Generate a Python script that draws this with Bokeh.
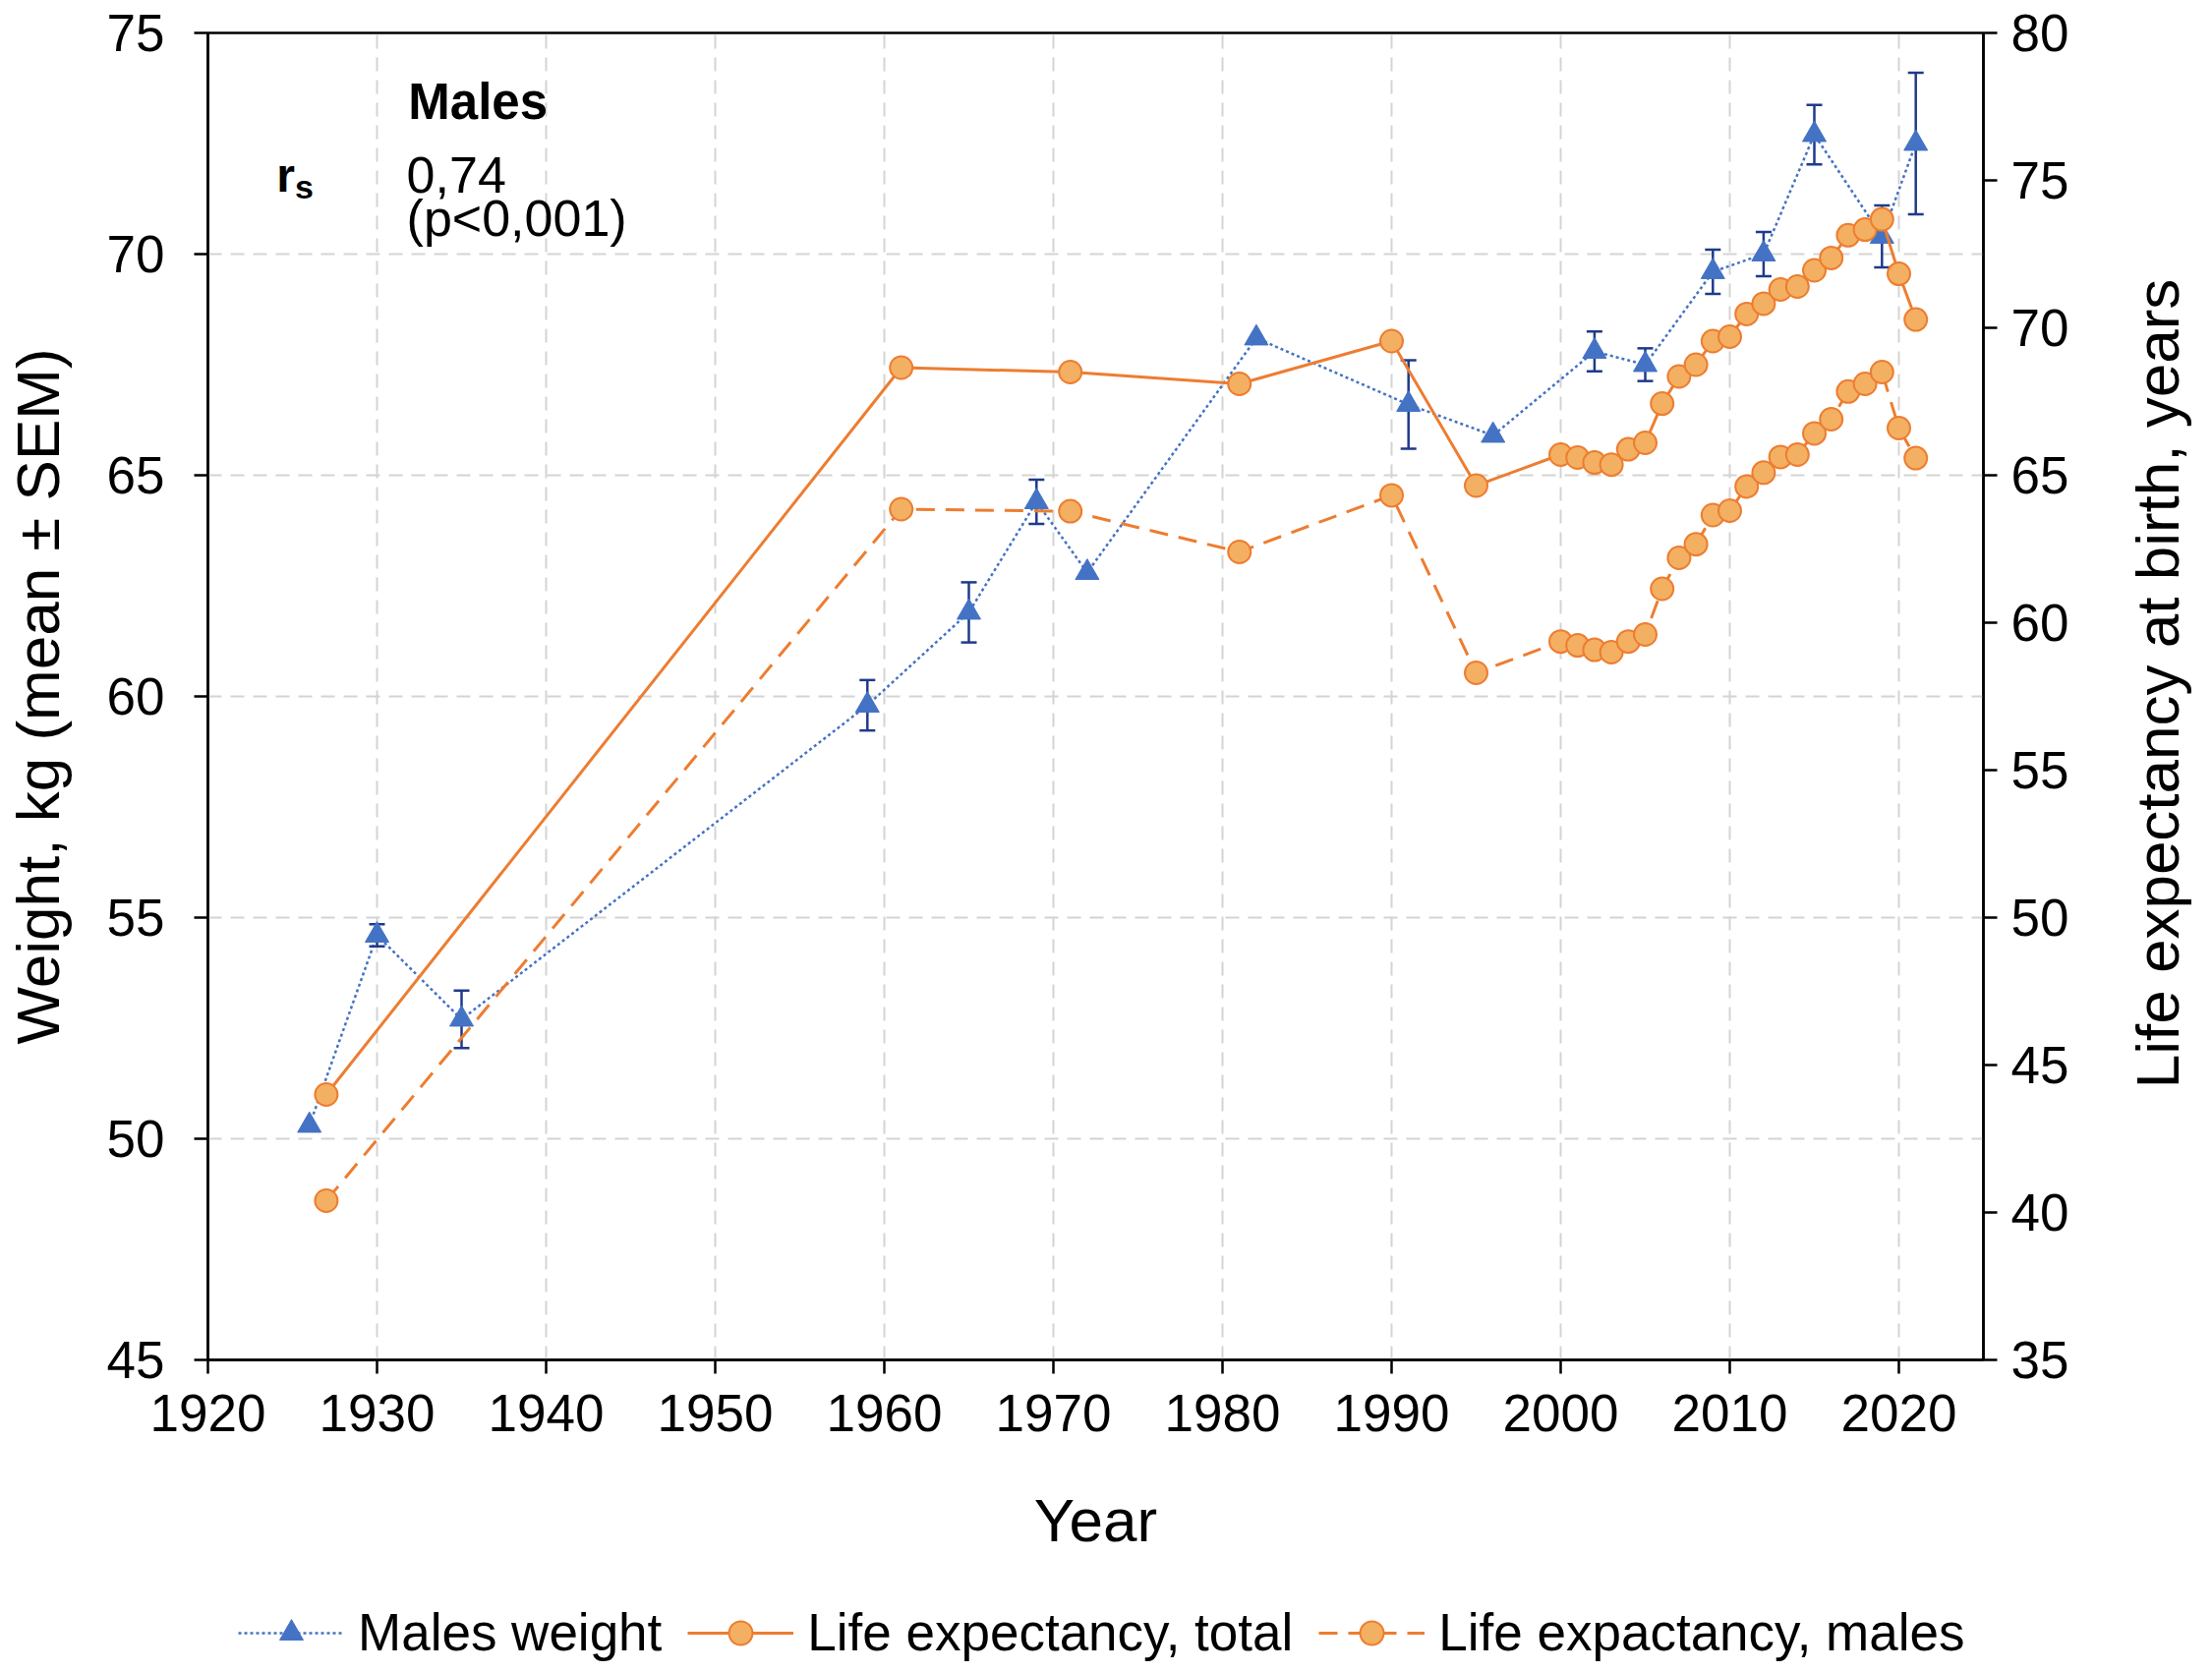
import math
from bokeh.plotting import figure
from bokeh.layouts import gridplot
from bokeh.models import (Range1d, LinearAxis, FixedTicker, Legend, LegendItem,
                          ColumnDataSource)
from bokeh.embed import file_html
from bokeh.resources import INLINE
from bokeh.core.properties import value

# ---------------- data ----------------
years_w = [1926, 1930, 1935, 1959, 1965, 1969, 1972, 1982, 1991, 1996,
           2002, 2005, 2009, 2012, 2015, 2019, 2021]
weight = [50.3, 54.6, 52.7, 59.8, 61.9, 64.4, 62.8, 68.1, 66.6, 65.9,
          67.8, 67.5, 69.6, 70.0, 72.7, 70.4, 72.5]
weight_sem = [0.0, 0.25, 0.65, 0.57, 0.68, 0.5, 0.0, 0.0, 1.0, 0.0,
              0.45, 0.37, 0.5, 0.5, 0.67, 0.7, 1.6]

years_le = [1927, 1961, 1971, 1981, 1990, 1995,
            2000, 2001, 2002, 2003, 2004, 2005, 2006, 2007, 2008, 2009, 2010,
            2011, 2012, 2013, 2014, 2015, 2016, 2017, 2018, 2019, 2020, 2021]
le_total = [44.0, 68.65, 68.5, 68.1, 69.55, 64.65,
            65.7, 65.6, 65.43, 65.36, 65.88, 66.1, 67.43, 68.35, 68.75, 69.55, 69.7,
            70.47, 70.82, 71.3, 71.4, 71.95, 72.37, 73.14, 73.33, 73.68, 71.83, 70.28]
le_males = [40.4, 63.85, 63.78, 62.4, 64.32, 58.3,
            59.36, 59.23, 59.08, 59.0, 59.36, 59.6, 61.15, 62.2, 62.66, 63.65, 63.8,
            64.62, 65.09, 65.62, 65.7, 66.42, 66.9, 67.84, 68.1, 68.5, 66.6, 65.58]

x_ticks = [1920, 1930, 1940, 1950, 1960, 1970, 1980, 1990, 2000, 2010, 2020]
kg_ticks = [45, 50, 55, 60, 65, 70, 75]
le_ticks = [35, 40, 45, 50, 55, 60, 65, 70, 75, 80]

x_label = "Year"
left_label = "Weight, kg (mean \u00b1 SEM)"
right_label = "Life expectancy at birth, years"
legend_labels = ["Males weight", "Life expectancy, total", "Life expactancy, males"]

# ---------------- style ----------------
FONT = "Liberation Sans"
BLUE = "#4472C4"
NAVY = "#1F3A8A"
ORANGE = "#ED7D31"
ORANGE_FILL = "#F4B062"
GRID = "#D4D4D4"

W1, W2 = 2157, 88
H1, H3 = 1608, 90
BL, BR, BT, BB = 210, 140, 33, 225

p = figure(width=W1, height=H1,
           min_border_left=BL, min_border_right=BR,
           min_border_top=BT, min_border_bottom=BB,
           x_range=Range1d(1920, 2025), y_range=Range1d(45, 75),
           output_backend="svg", toolbar_location=None)
p.extra_y_ranges = {"le": Range1d(35, 80)}
p.background_fill_color = "white"
p.border_fill_color = "white"
p.outline_line_color = "black"
p.outline_line_width = 2.5

left_axis = p.left[0]
bottom_axis = p.below[0]
bottom_axis.ticker = FixedTicker(ticks=x_ticks)
left_axis.ticker = FixedTicker(ticks=kg_ticks)
p.xgrid.ticker = FixedTicker(ticks=x_ticks)
p.ygrid.ticker = FixedTicker(ticks=kg_ticks)
for g in (p.xgrid, p.ygrid):
    g.grid_line_color = GRID
    g.grid_line_width = 2
    g.grid_line_dash = "14 9"

right_axis = LinearAxis(y_range_name="le", ticker=FixedTicker(ticks=le_ticks))
p.add_layout(right_axis, "right")

bottom_axis.axis_label = x_label
left_axis.axis_label = left_label

for ax in [bottom_axis, left_axis, right_axis]:
    ax.axis_line_color = "black"
    ax.axis_line_width = 2.5
    ax.major_tick_line_color = "black"
    ax.major_tick_line_width = 2.5
    ax.major_tick_out = 14
    ax.major_tick_in = 0
    ax.minor_tick_out = 0
    ax.minor_tick_in = 0
    ax.major_label_text_font = FONT
    ax.major_label_text_font_size = "53px"
    ax.major_label_text_color = "black"
    ax.axis_label_text_font = FONT
    ax.axis_label_text_font_size = "62px"
    ax.axis_label_text_font_style = "normal"
    ax.axis_label_text_color = "black"

bottom_axis.major_label_standoff = 21
bottom_axis.axis_label_standoff = 53
left_axis.major_label_standoff = 30
left_axis.axis_label_standoff = 33
right_axis.major_label_standoff = 14

# ---------------- weight series ----------------
w_src = ColumnDataSource(dict(x=years_w, y=weight))
err_x = [x for x, s in zip(years_w, weight_sem) if s > 0]
err_lo = [w - s for w, s in zip(weight, weight_sem) if s > 0]
err_hi = [w + s for w, s in zip(weight, weight_sem) if s > 0]
e_src = ColumnDataSource(dict(x=err_x, lo=err_lo, hi=err_hi))

w_style = dict(line_color=BLUE, line_width=2.5, line_dash="3 3")
tri_style = dict(marker="triangle", size=24, fill_color=BLUE, line_color=BLUE, line_width=1)
tot_style = dict(line_color=ORANGE, line_width=3)
mal_style = dict(line_color=ORANGE, line_width=3, line_dash="19 11")
circ_style = dict(marker="circle", size=23, fill_color=ORANGE_FILL,
                  line_color=ORANGE, line_width=2)

p.line("x", "y", source=w_src, **w_style)
p.segment(x0="x", y0="lo", x1="x", y1="hi", source=e_src,
          line_color=NAVY, line_width=2.5)
p.scatter(x="x", y="hi", source=e_src, marker="dash", size=16,
          line_color=NAVY, line_width=2.5)
p.scatter(x="x", y="lo", source=e_src, marker="dash", size=16,
          line_color=NAVY, line_width=2.5)
p.scatter("x", "y", source=w_src, **tri_style)

# ---------------- life expectancy ----------------
le_src = ColumnDataSource(dict(x=years_le, tot=le_total, mal=le_males))
p.line("x", "tot", source=le_src, y_range_name="le", **tot_style)
p.line("x", "mal", source=le_src, y_range_name="le", **mal_style)
p.scatter("x", "tot", source=le_src, y_range_name="le", **circ_style)
p.scatter("x", "mal", source=le_src, y_range_name="le", **circ_style)

# ---------------- annotation text ----------------
p.text(x=[1931.85], y=[73.45], text=["Males"], text_font=value(FONT),
       text_font_size=value("51px"), text_font_style="bold",
       text_color="black", text_align="left", text_baseline="alphabetic")
p.text(x=[1924.05], y=[71.78], text=["r"], text_font=value(FONT),
       text_font_size=value("48px"), text_font_style="bold",
       text_color="black", text_align="left", text_baseline="alphabetic")
p.text(x=[1925.15], y=[71.53], text=["s"], text_font=value(FONT),
       text_font_size=value("34px"), text_font_style="bold",
       text_color="black", text_align="left", text_baseline="alphabetic")
p.text(x=[1931.75], y=[71.78], text=["0,74"], text_font=value(FONT),
       text_font_size=value("52px"), text_color="black",
       text_align="left", text_baseline="alphabetic")
p.text(x=[1931.75], y=[70.82], text=["(p<0,001)"], text_font=value(FONT),
       text_font_size=value("52px"), text_color="black",
       text_align="left", text_baseline="alphabetic")

# ---------------- right axis title (reads bottom-to-top) ----------------
p2 = figure(width=W2, height=H1, x_range=Range1d(0, W2), y_range=Range1d(45, 75),
            min_border_left=0, min_border_right=0,
            min_border_top=BT, min_border_bottom=BB,
            x_axis_type=None, y_axis_type=None,
            output_backend="svg", toolbar_location=None)
p2.outline_line_color = None
p2.background_fill_color = "white"
p2.border_fill_color = "white"
p2.text(x=[37], y=[60.29], text=[right_label], angle=math.pi / 2,
        text_font=value(FONT), text_font_size=value("62px"), text_color="black",
        text_align="center", text_baseline="alphabetic")

# ---------------- legend (own strip under the chart) ----------------
# legend proxies reuse the real series; they fall outside this strip's ranges
p3 = figure(width=W1, height=H3, x_range=Range1d(0, 1), y_range=Range1d(0, 1),
            min_border_left=BL, min_border_right=BR,
            min_border_top=0, min_border_bottom=0,
            x_axis_type=None, y_axis_type=None,
            output_backend="svg", toolbar_location=None)
p3.outline_line_color = None
p3.background_fill_color = "white"
p3.border_fill_color = "white"
lg_w = p3.line("x", "y", source=w_src, **w_style)
lg_tri = p3.scatter("x", "y", source=w_src, **tri_style)
lg_t = p3.line("x", "tot", source=le_src, **tot_style)
lg_tc = p3.scatter("x", "tot", source=le_src, **circ_style)
lg_m = p3.line("x", "mal", source=le_src, **mal_style)
lg_mc = p3.scatter("x", "mal", source=le_src, **circ_style)

legend = Legend(items=[
    LegendItem(label=legend_labels[0], renderers=[lg_w, lg_tri]),
    LegendItem(label=legend_labels[1], renderers=[lg_t, lg_tc]),
    LegendItem(label=legend_labels[2], renderers=[lg_m, lg_mc]),
], orientation="horizontal", location=(31, 7))
legend.label_text_font = FONT
legend.label_text_font_size = "53px"
legend.label_text_color = "black"
legend.glyph_width = 108
legend.glyph_height = 60
legend.label_standoff = 14
legend.spacing = 26
legend.padding = 0
legend.margin = 0
legend.border_line_color = None
legend.background_fill_alpha = 0
p3.add_layout(legend, "center")

layout = gridplot([[p, p2], [p3, None]], toolbar_location=None)
open("out.html", "w").write(file_html(layout, INLINE))
